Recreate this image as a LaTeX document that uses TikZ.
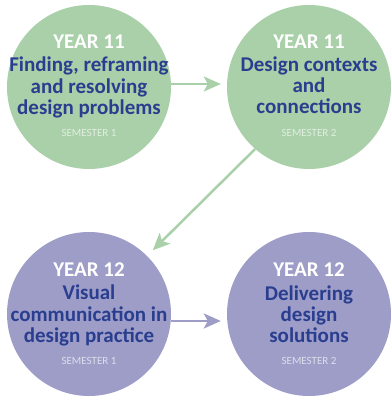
\documentclass[tikz,border=0pt]{standalone}
\usepackage{fontspec}
\setmainfont{Carlito}
\usetikzlibrary{arrows.meta,calc}
\definecolor{cgreen}{RGB}{169,208,169}
\definecolor{cpurple}{RGB}{157,157,200}
\definecolor{cblue}{RGB}{42,62,143}
\tikzset{
  bubble/.style={circle, inner sep=0pt, minimum size=164pt},
  yeartxt/.style={anchor=base, text=white, font=\bfseries\fontsize{21}{22}\selectfont, inner sep=0pt},
  titletxt/.style={anchor=base, text=cblue, font=\bfseries\fontsize{21}{22}\selectfont, inner sep=0pt},
  semtxt/.style={anchor=base, font=\fontsize{11}{12}\selectfont, inner sep=0pt},
  arr/.style={line width=2.5pt, -{Stealth[length=17pt,width=15pt,inset=4pt]}}
}
\begin{document}
\begin{tikzpicture}[x=1pt,y=-1pt]
\useasboundingbox (0,0) rectangle (390,398);
% circles
\node[bubble, fill=cgreen] (c1) at (89,87) {};
\node[bubble, fill=cgreen] (c2) at (309,87) {};
\node[bubble, fill=cpurple] (c3) at (89,314) {};
\node[bubble, fill=cpurple] (c4) at (309,314) {};
% texts circle 1
\node[yeartxt] (y1) at (89,49) {YEAR 11};
\node[titletxt] (t1a) at (89,72) {Finding, reframing};
\node[titletxt] (t1b) at (89,94) {and resolving};
\node[titletxt] (t1c) at (89,115) {design problems};
\node[semtxt, text=white!65!cgreen] (s1) at (89,136) {SEMESTER 1};
% texts circle 2
\node[yeartxt] (y2) at (309,49) {YEAR 11};
\node[titletxt] (t2a) at (309,72) {Design contexts};
\node[titletxt] (t2b) at (309,93) {and};
\node[titletxt] (t2c) at (309,114) {connections};
\node[semtxt, text=white!65!cgreen] (s2) at (309,136) {SEMESTER 2};
% texts circle 3
\node[yeartxt] (y3) at (89,276) {YEAR 12};
\node[titletxt] (t3a) at (89,299) {Visual};
\node[titletxt] (t3b) at (89,321) {communication in};
\node[titletxt] (t3c) at (89,342) {design practice};
\node[semtxt, text=white!65!cpurple] (s3) at (89,364) {SEMESTER 1};
% texts circle 4
\node[yeartxt] (y4) at (309,276) {YEAR 12};
\node[titletxt] (t4a) at (309,300) {Delivering};
\node[titletxt] (t4b) at (309,321) {design};
\node[titletxt] (t4c) at (309,342) {solutions};
\node[semtxt, text=white!65!cpurple] (s4) at (309,364) {SEMESTER 2};
% arrows
\draw[arr, cgreen, shorten >=6pt] ([yshift=3pt]c1.east) -- ([yshift=3pt]c2.west);
\draw[arr, cgreen, shorten >=8pt] (c2.229) -- (c3.45);
\draw[arr, cpurple, shorten >=6pt] ([yshift=-7pt]c3.east) -- ([yshift=-7pt]c4.west);
\end{tikzpicture}
\end{document}
